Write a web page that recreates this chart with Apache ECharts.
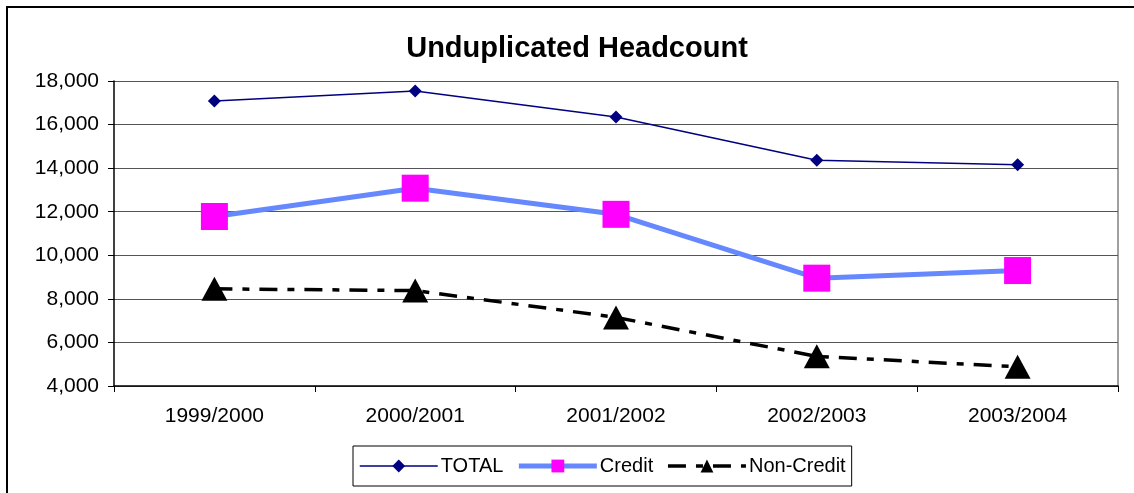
<!DOCTYPE html>
<html>
<head>
<meta charset="utf-8">
<title>Unduplicated Headcount</title>
<script src="https://cdn.jsdelivr.net/npm/echarts@6/dist/echarts.min.js"></script>
<style>
  html, body { margin: 0; padding: 0; background: #fff; overflow: hidden; }
  #chart { width: 1134px; height: 493px; }
</style>
</head>
<body>
<div id="chart"></div>
<script>
// chart data
const years = ['1999/2000', '2000/2001', '2001/2002', '2002/2003', '2003/2004']
const totalData = [17080, 17540, 16350, 14360, 14160]
const creditData = [11780, 13080, 11880, 8950, 9300]
const nonCreditData = [8460, 8380, 7150, 5360, 4880]
const yTicks = { min: 4000, max: 18000, interval: 2000 }

const chart = echarts.init(document.getElementById('chart'))

const font = 'Liberation Sans, Arial, sans-serif'

chart.setOption({
  backgroundColor: '#fff',
  animation: false,
  title: {
    text: 'Unduplicated Headcount',
    left: 572,
    textAlign: 'center',
    top: 29,
    textStyle: {
      fontFamily: font,
      fontSize: 29,
      fontWeight: 'bold',
      color: '#000'
    }
  },
  graphic: [{
    // outer chart border (runs off the picture on the right and bottom)
    type: 'rect',
    shape: { x: 7, y: 7, width: 1200, height: 600 },
    style: { fill: 'none', stroke: '#000', lineWidth: 2 },
    silent: true
  }, {
    // plot area frame on the right
    type: 'line',
    shape: { x1: 1118, y1: 81, x2: 1118, y2: 386 },
    style: { stroke: '#808080', lineWidth: 1.5 },
    silent: true
  }],
  legend: {
    left: 353,
    top: 446,
    width: 497,
    height: 42,
    padding: [10, 6, 10, 6],
    itemGap: 13,
    itemWidth: 78,
    itemHeight: 16,
    borderColor: '#000',
    borderWidth: 1,
    backgroundColor: '#fff',
    textStyle: {
      fontFamily: font,
      fontSize: 20,
      color: '#000',
      padding: [0, 0, 0, -2]
    },
    data: [
      { name: 'TOTAL', lineStyle: { width: 1.5 } },
      { name: 'Credit', lineStyle: { width: 5 } },
      { name: 'Non-Credit', lineStyle: { width: 3.5 } }
    ]
  },
  grid: {
    top: 81,
    bottom: 107,
    left: 114,
    right: 16,
    containLabel: false
  },
  xAxis: {
    type: 'category',
    boundaryGap: true,
    data: years,
    axisLine: { lineStyle: { color: '#000', width: 1.5 } },
    axisTick: { show: true, length: 6, lineStyle: { color: '#000' } },
    axisLabel: {
      margin: 20,
      fontFamily: font,
      fontSize: 21,
      color: '#000'
    },
    splitLine: { show: false }
  },
  yAxis: {
    type: 'value',
    min: yTicks.min,
    max: yTicks.max,
    interval: yTicks.interval,
    axisLine: { show: true, lineStyle: { color: '#000', width: 1.5 } },
    axisTick: { show: true, length: 6, lineStyle: { color: '#000' } },
    axisLabel: {
      margin: 15,
      fontFamily: font,
      fontSize: 21,
      color: '#000',
      formatter: (v) => v.toLocaleString('en-US')
    },
    splitLine: { lineStyle: { color: '#555', width: 1 } }
  },
  series: [{
    name: 'TOTAL',
    type: 'line',
    data: totalData,
    symbol: 'diamond',
    symbolSize: 13,
    z: 4,
    lineStyle: { color: '#000080', width: 1.5 },
    itemStyle: { color: '#000080' }
  }, {
    name: 'Credit',
    type: 'line',
    data: creditData,
    symbol: 'rect',
    symbolSize: 27,
    z: 3,
    lineStyle: { color: '#6688ff', width: 5 },
    itemStyle: { color: '#ff00ff' }
  }, {
    name: 'Non-Credit',
    type: 'line',
    data: nonCreditData,
    symbol: 'triangle',
    symbolSize: [26, 24],
    z: 2,
    lineStyle: { color: '#000', width: 3.5, type: [18, 10, 7, 10] },
    itemStyle: { color: '#000' }
  }]
})
</script>
</body>
</html>
